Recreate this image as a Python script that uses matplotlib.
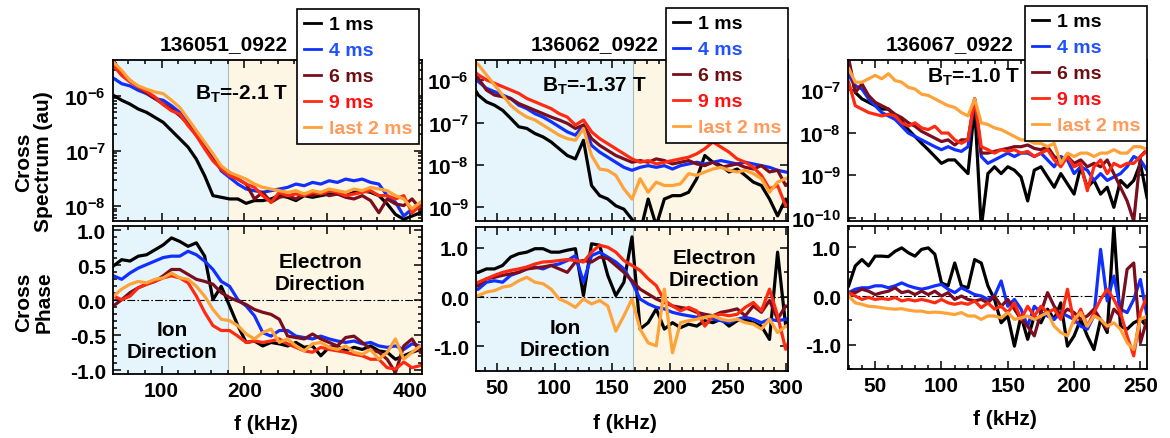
import numpy as np
import matplotlib
matplotlib.use("Agg")
import matplotlib.pyplot as plt
from matplotlib.ticker import FixedLocator, FixedFormatter, MultipleLocator, LogLocator, NullFormatter, FormatStrFormatter

plt.rcParams["font.family"] = ["Liberation Sans", "DejaVu Sans"]
plt.rcParams["font.weight"] = "bold"
plt.rcParams["mathtext.fontset"] = "custom"
plt.rcParams["mathtext.rm"] = "Liberation Sans:bold"
plt.rcParams["mathtext.bf"] = "Liberation Sans:bold"
plt.rcParams["mathtext.it"] = "Liberation Sans:bold"
plt.rcParams["mathtext.default"] = "bf"
plt.rcParams["axes.unicode_minus"] = False

# ---- data -------------------------------------------------------------
labels = ["1 ms", "4 ms", "6 ms", "9 ms", "last 2 ms"]
shots = ["136051_0922", "136062_0922", "136067_0922"]
bt_values = ["-2.1", "-1.37", "-1.0"]

# frequency grids (kHz)
f1 = np.arange(42, 413, 10)
f2 = np.arange(27, 308, 7)
f3 = np.arange(30, 256, 5)

# cross spectrum, stored as log10(au)
p1_spec_1ms = [-5.99, -6.08, -6.15, -6.24, -6.30, -6.39, -6.48, -6.63, -6.78, -6.93, -7.15, -7.45, -7.81, -7.84, -7.87, -7.87, -7.95, -7.90, -7.90, -7.87, -7.81, -7.84, -7.90, -7.81, -7.84, -7.81, -7.78, -7.78, -7.81, -7.75, -7.72, -7.75, -7.81, -7.96, -8.15, -8.24, -8.18, -8.12]
p1_spec_4ms = [-5.68, -5.78, -5.82, -5.90, -5.96, -6.05, -6.08, -6.18, -6.30, -6.48, -6.66, -6.90, -7.08, -7.36, -7.48, -7.60, -7.69, -7.72, -7.75, -7.72, -7.69, -7.66, -7.60, -7.63, -7.57, -7.60, -7.54, -7.57, -7.51, -7.54, -7.51, -7.57, -7.60, -7.81, -7.93, -8.18, -8.05, -7.99]
p1_spec_6ms = [-5.36, -5.60, -5.72, -5.84, -5.95, -6.05, -6.15, -6.24, -6.36, -6.51, -6.72, -6.93, -7.15, -7.30, -7.39, -7.51, -7.60, -7.87, -7.75, -7.93, -7.84, -7.81, -7.87, -7.78, -7.81, -7.75, -7.81, -7.78, -7.84, -7.87, -7.81, -7.90, -8.12, -7.87, -7.96, -7.99, -7.87, -8.05]
p1_spec_9ms = [-5.45, -5.63, -5.75, -5.84, -5.92, -6.02, -6.16, -6.27, -6.33, -6.54, -6.72, -6.96, -7.18, -7.33, -7.45, -7.51, -7.60, -7.66, -7.81, -7.93, -7.75, -7.81, -7.78, -7.81, -7.75, -7.78, -7.72, -7.75, -7.81, -7.78, -7.75, -7.72, -7.81, -7.81, -7.87, -7.81, -8.12, -7.99]
p1_spec_last = [-5.39, -5.54, -5.72, -5.82, -5.88, -5.93, -5.96, -6.08, -6.21, -6.42, -6.63, -6.84, -7.05, -7.27, -7.39, -7.45, -7.51, -7.60, -7.66, -7.69, -7.72, -7.75, -7.72, -7.78, -7.72, -7.75, -7.69, -7.72, -7.75, -7.69, -7.72, -7.66, -7.69, -7.72, -7.81, -7.87, -8.05, -7.93]

p2_spec_1ms = [-6.03, -6.35, -6.51, -6.59, -6.71, -6.90, -7.10, -7.14, -7.26, -7.34, -7.46, -7.62, -7.78, -7.86, -7.42, -8.49, -8.73, -8.81, -8.97, -9.05, -9.29, -9.60, -8.81, -9.44, -8.81, -8.73, -8.73, -8.65, -8.33, -7.78, -7.94, -8.02, -8.17, -8.10, -8.25, -8.41, -8.49, -8.81, -9.21, -8.81, -9.13]
p2_spec_4ms = [-5.87, -6.03, -6.19, -6.27, -6.35, -6.43, -6.59, -6.67, -6.79, -6.87, -6.98, -7.10, -7.22, -7.30, -7.06, -7.54, -7.70, -7.82, -7.94, -8.06, -8.13, -8.06, -8.02, -8.06, -8.02, -8.10, -8.02, -7.98, -7.94, -7.98, -7.94, -7.90, -7.94, -7.98, -7.94, -7.98, -8.02, -8.06, -8.13, -8.17, -8.21]
p2_spec_6ms = [-5.63, -5.95, -6.23, -6.35, -6.39, -6.43, -6.55, -6.63, -6.71, -6.79, -6.87, -6.94, -7.02, -7.14, -7.06, -7.38, -7.54, -7.66, -7.78, -7.86, -7.94, -7.90, -7.94, -7.86, -7.90, -7.98, -7.94, -7.90, -7.98, -8.02, -7.94, -8.06, -8.02, -7.98, -8.06, -8.10, -8.02, -8.17, -8.13, -8.49, -8.33]
p2_spec_9ms = [-5.71, -5.87, -5.99, -6.07, -6.15, -6.23, -6.31, -6.43, -6.51, -6.59, -6.67, -6.79, -6.87, -7.06, -6.94, -7.22, -7.38, -7.50, -7.62, -7.74, -7.86, -7.94, -7.90, -7.98, -7.94, -7.90, -7.86, -7.82, -7.74, -7.62, -7.46, -7.58, -7.70, -7.86, -7.94, -8.06, -8.25, -8.57, -8.49, -8.97, -8.81]
p2_spec_last = [-5.48, -5.63, -5.87, -6.11, -6.35, -6.59, -6.75, -6.87, -6.94, -7.06, -7.18, -7.30, -7.38, -7.42, -7.14, -7.78, -8.10, -8.13, -8.25, -8.57, -8.81, -8.33, -8.65, -8.41, -8.49, -8.49, -8.45, -8.21, -8.25, -8.17, -8.10, -8.06, -8.13, -8.17, -8.13, -8.21, -8.33, -8.65, -8.41, -8.33, -8.25]

p3_spec_1ms = [-6.34, -7.06, -7.21, -7.29, -7.37, -7.45, -7.45, -7.61, -7.73, -7.93, -8.09, -8.25, -8.40, -8.56, -8.72, -8.64, -8.64, -8.80, -8.96, -7.37, -10.23, -8.96, -8.80, -8.96, -8.80, -8.88, -9.04, -9.60, -8.88, -8.80, -9.04, -9.28, -8.96, -9.20, -9.44, -8.80, -9.28, -9.12, -9.44, -9.28, -9.75, -9.12, -9.28, -9.12, -8.72, -9.52]
p3_spec_4ms = [-6.66, -6.90, -6.98, -7.21, -7.37, -7.53, -7.61, -7.69, -7.85, -8.01, -8.09, -8.17, -8.25, -8.33, -8.40, -8.33, -8.40, -8.44, -8.33, -7.21, -8.56, -8.72, -8.64, -8.56, -8.48, -8.56, -8.48, -8.48, -8.56, -8.48, -8.64, -8.80, -8.56, -8.64, -8.96, -8.80, -8.88, -9.12, -8.96, -9.12, -9.04, -8.96, -8.80, -8.56, -8.64, -8.88]
p3_spec_6ms = [-6.26, -7.06, -6.86, -7.13, -7.29, -7.37, -7.45, -7.57, -7.65, -7.77, -7.85, -7.97, -8.05, -8.13, -8.21, -8.17, -8.29, -8.17, -8.17, -7.21, -8.48, -8.48, -8.44, -8.40, -8.37, -8.33, -8.33, -8.29, -8.37, -8.40, -8.33, -8.56, -8.64, -8.56, -8.72, -8.64, -8.80, -8.72, -8.80, -8.64, -8.96, -9.28, -9.60, -10.07, -8.56, -8.40]
p3_spec_9ms = [-6.82, -7.37, -7.45, -7.53, -7.57, -7.61, -7.57, -7.61, -7.77, -7.85, -7.77, -7.89, -7.93, -7.85, -8.01, -8.01, -8.17, -8.25, -8.17, -7.21, -8.33, -8.40, -8.48, -8.40, -8.44, -8.40, -8.48, -8.44, -8.56, -8.48, -8.40, -8.64, -8.80, -8.56, -8.80, -8.72, -9.36, -8.80, -8.64, -8.96, -8.72, -8.80, -8.72, -8.72, -8.56, -8.44]
p3_spec_last = [-6.50, -6.82, -6.82, -6.74, -6.66, -6.74, -6.62, -6.78, -6.82, -6.94, -6.98, -7.10, -7.13, -7.21, -7.29, -7.37, -7.41, -7.53, -7.61, -7.21, -7.77, -7.81, -7.89, -7.93, -8.01, -8.09, -8.17, -8.17, -8.25, -8.25, -8.33, -8.25, -8.72, -8.48, -8.56, -8.48, -8.48, -8.56, -8.48, -8.48, -8.40, -8.48, -8.48, -8.33, -8.33, -8.40]

# cross phase
p1_phase_1ms = [0.49, 0.58, 0.56, 0.63, 0.65, 0.72, 0.79, 0.89, 0.84, 0.77, 0.82, 0.63, 0.01, 0.20, -0.08, -0.36, -0.60, -0.58, -0.65, -0.60, -0.62, -0.65, -0.60, -0.67, -0.65, -0.79, -0.67, -0.65, -0.72, -0.67, -0.70, -0.65, -0.72, -0.74, -0.84, -0.79, -0.74, -0.70]
p1_phase_4ms = [0.35, 0.30, 0.39, 0.46, 0.51, 0.56, 0.61, 0.63, 0.63, 0.70, 0.65, 0.56, 0.44, 0.27, 0.20, 0.01, -0.08, -0.22, -0.46, -0.51, -0.43, -0.43, -0.51, -0.53, -0.55, -0.51, -0.55, -0.58, -0.60, -0.58, -0.62, -0.60, -0.65, -0.67, -0.65, -0.70, -0.62, -0.65]
p1_phase_6ms = [-0.08, 0.01, 0.11, 0.18, 0.23, 0.27, 0.35, 0.44, 0.44, 0.37, 0.30, 0.27, 0.23, 0.11, 0.04, -0.01, -0.06, -0.13, -0.17, -0.20, -0.27, -0.51, -0.53, -0.55, -0.48, -0.55, -0.60, -0.65, -0.53, -0.51, -0.60, -0.70, -0.74, -0.84, -1.03, -0.65, -0.55, -0.74]
p1_phase_9ms = [0.06, 0.01, 0.06, 0.18, 0.23, 0.27, 0.32, 0.35, 0.32, 0.25, 0.06, -0.17, -0.36, -0.43, -0.43, -0.51, -0.60, -0.58, -0.60, -0.58, -0.55, -0.62, -0.67, -0.72, -0.74, -0.67, -0.70, -0.72, -0.74, -0.77, -0.79, -0.84, -0.84, -0.96, -0.98, -0.88, -0.96, -0.93]
p1_phase_last = [0.06, 0.16, 0.23, 0.27, 0.25, 0.30, 0.32, 0.39, 0.32, 0.30, 0.20, 0.06, -0.13, -0.27, -0.29, -0.36, -0.48, -0.55, -0.46, -0.41, -0.60, -0.55, -0.65, -0.72, -0.62, -0.60, -0.67, -0.70, -0.65, -0.74, -0.77, -0.70, -0.84, -0.74, -0.55, -0.84, -0.74, -0.65]

p2_phase_1ms = [0.50, 0.50, 0.57, 0.57, 0.64, 0.81, 0.88, 0.91, 0.98, 0.98, 0.91, 0.91, 0.95, 0.98, 0.03, 1.08, 1.05, 0.44, 0.03, 0.30, 1.22, -0.65, -0.52, -0.24, -0.65, -0.52, -0.62, -0.55, -0.59, -0.48, -0.52, -0.45, -0.59, -0.48, -0.45, -0.52, -0.59, -0.86, 0.91, -0.59, -0.45]
p2_phase_4ms = [0.13, 0.16, 0.30, 0.33, 0.30, 0.44, 0.50, 0.57, 0.61, 0.57, 0.64, 0.67, 0.74, 0.84, 0.30, 0.84, 0.91, 0.81, 0.71, 0.57, 0.30, -0.04, -0.14, -0.21, -0.24, -0.31, -0.35, -0.38, -0.41, -0.38, -0.45, -0.48, -0.52, -0.45, -0.41, -0.45, -0.52, -0.45, -0.48, -0.45, -0.41]
p2_phase_6ms = [0.20, 0.23, 0.37, 0.40, 0.44, 0.47, 0.50, 0.57, 0.59, 0.61, 0.64, 0.57, 0.50, 0.71, 0.74, 0.71, 0.81, 0.78, 0.64, 0.50, 0.33, 0.16, 0.06, -0.04, -0.11, -0.18, -0.21, -0.24, -0.31, -0.35, -0.38, -0.31, -0.28, -0.24, -0.38, -0.18, -0.31, -0.07, -0.45, -0.18, -0.24]
p2_phase_9ms = [0.27, 0.30, 0.37, 0.44, 0.50, 0.54, 0.57, 0.61, 0.67, 0.71, 0.72, 0.74, 0.76, 0.74, 0.71, 0.91, 1.05, 1.01, 0.91, 0.74, 0.64, 0.54, 0.37, 0.23, -0.07, -0.18, -0.28, -0.21, -0.28, -0.59, -0.38, -0.35, -0.38, -0.35, -0.21, -0.11, -0.28, 0.16, -0.38, -1.06, -0.65]
p2_phase_last = [-0.01, 0.03, 0.10, 0.13, 0.20, 0.23, 0.33, 0.40, 0.30, 0.27, 0.16, -0.04, -0.11, -0.21, -0.04, -0.14, -0.07, -0.18, -0.69, -0.38, -0.04, -0.65, -0.93, -0.99, 0.16, -1.13, -0.52, -0.48, -0.45, -0.41, -0.38, -0.45, -0.48, -0.45, -0.52, -0.55, -0.65, -0.45, -0.72, -0.59, -0.52]

p3_phase_1ms = [0.21, 0.62, 0.75, 0.62, 0.82, 0.82, 0.81, 0.92, 0.99, 0.89, 0.82, 0.96, 0.99, 0.86, 0.27, 0.21, 0.68, 0.21, 0.17, 0.75, 0.68, 0.21, -0.07, -0.55, -0.41, -1.03, -0.41, -0.89, -0.41, -0.55, -0.27, -0.48, -0.14, -1.03, -0.82, -0.48, -0.82, -1.10, -0.48, -0.75, 1.44, -0.62, -0.68, -0.55, -0.48, -0.62]
p3_phase_4ms = [0.07, 0.14, 0.17, 0.17, 0.21, 0.21, 0.17, 0.21, 0.27, 0.21, 0.17, 0.14, 0.17, 0.21, 0.24, 0.14, 0.07, 0.17, 0.10, 0.03, 0.00, -0.07, 0.00, 0.31, -0.21, -0.07, -0.27, -0.62, -0.21, -0.34, -0.41, -0.48, -0.34, -0.41, -0.48, -0.62, -0.68, -0.41, 0.96, -0.10, 0.41, -0.27, -0.34, -0.07, 0.34, -0.41]
p3_phase_6ms = [0.07, 0.07, 0.14, 0.10, 0.03, 0.07, 0.10, 0.17, 0.07, 0.10, 0.03, 0.10, 0.03, 0.10, 0.00, 0.07, -0.07, 0.00, -0.07, -0.10, -0.07, -0.14, 0.00, -0.21, -0.07, -0.27, -0.48, -0.62, -0.82, -0.34, 0.07, -0.21, -0.41, -0.27, -0.34, -0.48, -0.41, -0.27, -0.48, -0.68, -0.27, -0.41, 0.55, 0.68, -0.96, -0.48]
p3_phase_9ms = [0.07, 0.00, -0.07, -0.03, -0.07, -0.05, -0.07, -0.03, -0.10, -0.07, -0.10, -0.07, -0.10, -0.14, -0.07, -0.14, -0.17, -0.14, -0.17, -0.10, -0.24, -0.14, -0.27, -0.21, -0.34, -0.14, -0.48, -0.21, -0.41, -0.21, -0.34, -0.27, -0.48, 0.14, -0.55, -0.27, -0.62, -0.34, -0.07, 0.14, -0.07, -0.34, -0.82, -1.23, -0.34, 0.00]
p3_phase_last = [0.00, -0.14, -0.17, -0.21, -0.22, -0.24, -0.26, -0.27, -0.26, -0.29, -0.31, -0.31, -0.34, -0.33, -0.34, -0.36, -0.38, -0.34, -0.41, -0.41, -0.48, -0.41, -0.41, -0.45, -0.34, -0.48, -0.45, -0.41, -0.48, -0.41, -0.34, -0.62, -0.75, -0.82, -0.48, -0.34, -0.62, -0.41, -0.48, -0.62, -0.55, -0.68, -0.96, -1.10, -0.48, -0.41]

# ---- style --------------------------------------------------------------
line_colors = ["#000000", "#1030FF", "#7A0E1E", "#FF2A10", "#FFA238"]
text_colors = ["#000000", "#2050FF", "#6E0E10", "#FF1010", "#FF9A5A"]
ion_bg = "#E6F4FC"
ele_bg = "#FDF6E4"

W, H = 1170, 439


def box(x0, y0, x1, y1):
    return [x0 / W, 1 - y1 / H, (x1 - x0) / W, (y1 - y0) / H]


def fx(x):
    return x / W


def fy(y):
    return 1 - y / H


panels = [
    dict(f=f1, spec=[p1_spec_1ms, p1_spec_4ms, p1_spec_6ms, p1_spec_9ms, p1_spec_last],
         phase=[p1_phase_1ms, p1_phase_4ms, p1_phase_6ms, p1_phase_9ms, p1_phase_last],
         xlim=(41.5, 414), xticks=[100, 200, 300, 400], xminor=20, split=180,
         slim=(-8.27, -5.35), decades=[-6, -7, -8], plim=(-1.05, 1.06),
         pticks=[1.0, 0.5, 0.0, -0.5, -1.0],
         top=(113, 61, 422, 222), bot=(113, 227, 422, 375)),
    dict(f=f2, spec=[p2_spec_1ms, p2_spec_4ms, p2_spec_6ms, p2_spec_9ms, p2_spec_last],
         phase=[p2_phase_1ms, p2_phase_4ms, p2_phase_6ms, p2_phase_9ms, p2_phase_last],
         xlim=(32, 302), xticks=[50, 100, 150, 200, 250, 300], xminor=10, split=168,
         slim=(-9.33, -5.52), decades=[-6, -7, -8, -9], plim=(-1.5, 1.42),
         pticks=[1.0, 0.0, -1.0],
         top=(476, 61, 788, 222), bot=(476, 228, 788, 372)),
    dict(f=f3, spec=[p3_spec_1ms, p3_spec_4ms, p3_spec_6ms, p3_spec_9ms, p3_spec_last],
         phase=[p3_phase_1ms, p3_phase_4ms, p3_phase_6ms, p3_phase_9ms, p3_phase_last],
         xlim=(29.5, 255), xticks=[50, 100, 150, 200, 250], xminor=10, split=None,
         slim=(-10.07, -6.30), decades=[-7, -8, -9, -10], plim=(-1.5, 1.44),
         pticks=[1.0, 0.0, -1.0],
         top=(848, 61, 1147, 222), bot=(848, 227, 1147, 370)),
]


def style(ax):
    ax.tick_params(which="both", direction="in", top=True, right=True, width=1.1, labelsize=15, pad=5)
    ax.tick_params(which="major", length=6)
    ax.tick_params(which="minor", length=3)
    for s in ax.spines.values():
        s.set_linewidth(1.3)


fig = plt.figure(figsize=(11.7, 4.39), dpi=100)

for p in panels:
    ax1 = fig.add_axes(box(*p["top"]))
    ax2 = fig.add_axes(box(*p["bot"]))
    for ax in (ax1, ax2):
        if p["split"] is not None:
            ax.axvspan(p["xlim"][0], p["split"], color=ion_bg, lw=0, zorder=0)
            ax.axvspan(p["split"], p["xlim"][1], color=ele_bg, lw=0, zorder=0)
            ax.axvline(p["split"], color="#AEBBC2", lw=0.8, zorder=0.5)
        ax.set_xlim(*p["xlim"])
        ax.xaxis.set_major_locator(FixedLocator(p["xticks"]))
        ax.xaxis.set_minor_locator(MultipleLocator(p["xminor"]))
        style(ax)

    handles = []
    for spec, c in zip(p["spec"], line_colors):
        (ln,) = ax1.plot(p["f"], 10.0 ** np.array(spec), color=c, lw=2.3, zorder=2)
        handles.append(ln)
    ax1.set_yscale("log")
    ax1.set_ylim(10.0 ** p["slim"][0], 10.0 ** p["slim"][1])
    ax1.yaxis.set_major_locator(FixedLocator([10.0 ** d for d in p["decades"]]))
    ax1.yaxis.set_major_formatter(FixedFormatter([r"$10^{%d}$" % d for d in p["decades"]]))
    ax1.yaxis.set_minor_locator(LogLocator(base=10, subs=np.arange(2, 10)))
    ax1.yaxis.set_minor_formatter(NullFormatter())
    ax1.tick_params(labelbottom=False)

    ax2.axhline(0, color="black", lw=0.8, dashes=(7, 2, 1.5, 2), zorder=1)
    for ph, c in zip(p["phase"], line_colors):
        ax2.plot(p["f"], ph, color=c, lw=2.3, zorder=2)
    ax2.set_ylim(*p["plim"])
    ax2.yaxis.set_major_locator(FixedLocator(p["pticks"]))
    ax2.yaxis.set_major_formatter(FormatStrFormatter("%.1f"))
    ax2.yaxis.set_minor_locator(MultipleLocator(0.5 if len(p["pticks"]) == 3 else 0.1))

    p["handles"] = handles

# titles, field labels
title_pos = [(224, 50), (595, 50), (950, 50)]
bt_pos = [(195, 100), (542, 92), (927, 83)]
for shot, (x, y) in zip(shots, title_pos):
    fig.text(fx(x), fy(y), shot, ha="center", va="baseline", fontsize=15, fontweight="bold")
for bt, (x, y) in zip(bt_values, bt_pos):
    fig.text(fx(x), fy(y), r"$B_T$=" + bt + " T", ha="left", va="baseline", fontsize=15, fontweight="bold")

# direction annotations
for x, y in [(172, 342), (565, 340)]:
    fig.text(fx(x), fy(y), "Ion\nDirection", ha="center", va="center", fontsize=15,
             fontweight="bold", multialignment="center")
for x, y in [(320, 273), (714, 270)]:
    fig.text(fx(x), fy(y), "Electron\nDirection", ha="center", va="center", fontsize=15,
             fontweight="bold", multialignment="center")

# axis labels
fig.text(fx(34), fy(162), "Cross\nSpectrum (au)", rotation=90, ha="center", va="center",
         fontsize=15, fontweight="bold", multialignment="center", linespacing=1.05)
fig.text(fx(34), fy(302), "Cross\nPhase", rotation=90, ha="center", va="center",
         fontsize=15, fontweight="bold", multialignment="center", linespacing=1.05)
for x, y in [(266, 425), (625, 424), (1005, 420)]:
    fig.text(fx(x), fy(y), "f (kHz)", ha="center", va="center", fontsize=15, fontweight="bold")

# legends
legend_pos = [(297, 10), (666, 9), (1025, 7)]
for p, (x, y) in zip(panels, legend_pos):
    leg = fig.legend(p["handles"], labels, loc="upper left", bbox_to_anchor=(fx(x), fy(y)),
                     bbox_transform=fig.transFigure, borderaxespad=0, fancybox=False,
                     fontsize=14, handlelength=0.9, handletextpad=0.4, labelspacing=0.43,
                     borderpad=0.35, framealpha=1)
    leg.get_frame().set_edgecolor("black")
    leg.get_frame().set_linewidth(1.2)
    for t, c in zip(leg.get_texts(), text_colors):
        t.set_color(c)
        t.set_fontweight("bold")
    for ln in leg.get_lines():
        ln.set_linewidth(2.0)

fig.savefig("out.png", dpi=100)
